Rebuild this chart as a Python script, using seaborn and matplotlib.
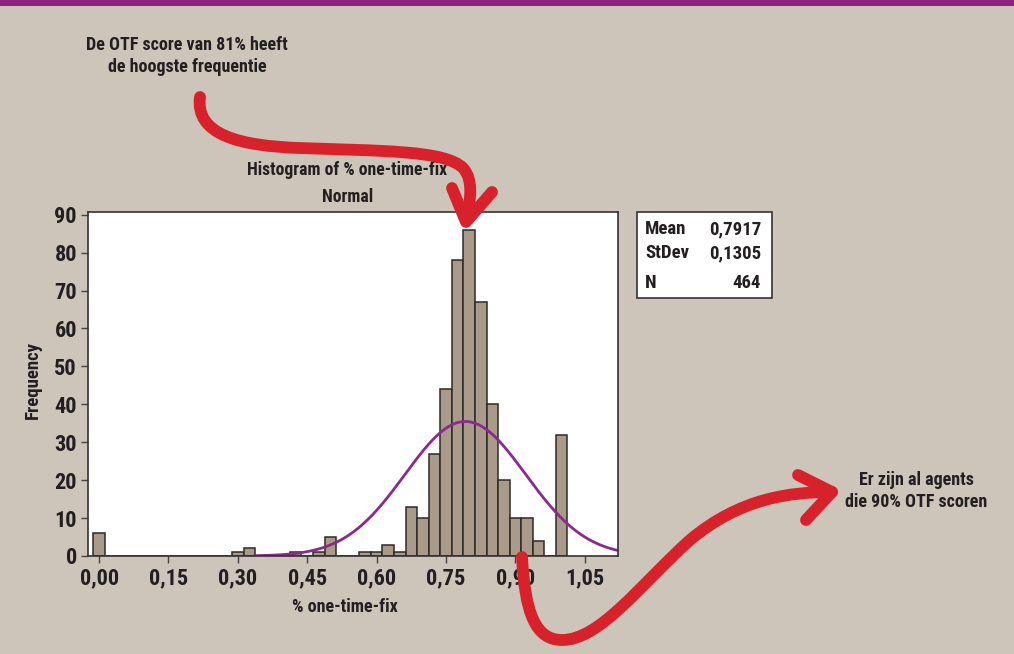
import numpy as np
import pandas as pd
import matplotlib
matplotlib.use("Agg")
import matplotlib.pyplot as plt
from matplotlib import font_manager
from matplotlib.path import Path
from matplotlib.patches import PathPatch, Rectangle
import seaborn as sns

# ---------------- data ----------------
bin_centers = [0.000, 0.300, 0.325, 0.425, 0.475, 0.500, 0.575, 0.600, 0.625, 0.650,
               0.675, 0.700, 0.725, 0.750, 0.775, 0.800, 0.825, 0.850, 0.875,
               0.900, 0.925, 0.950, 1.000]
counts = [6, 1, 2, 1, 1, 5, 1, 1, 3, 1,
          13, 10, 27, 44, 78, 86, 67, 40, 20,
          10, 10, 4, 32]
fit_mean = 0.7917
fit_sd = 0.1305
n_obs = 464
bin_width = 0.025
x_ticks = [0.00, 0.15, 0.30, 0.45, 0.60, 0.75, 0.90, 1.05]
x_tick_labels = ["0,00", "0,15", "0,30", "0,45", "0,60", "0,75", "0,90", "1,05"]
y_ticks = [0, 10, 20, 30, 40, 50, 60, 70, 80, 90]
stats_labels = ["Mean", "StDev", "N"]
stats_values = ["0,7917", "0,1305", "464"]

# ---------------- style ----------------
W, H = 1014, 654
BG = "#CEC5BA"
PURPLE_BAR = "#8B2381"
BAR_FILL = "#A99A89"
BAR_EDGE = "#2E2A27"
CURVE = "#8A2A8E"
RED = "#D8222B"
TEXT = "#231F20"

sns.set_theme(style="white")
available = {f.name for f in font_manager.fontManager.ttflist}
family = None
for cand in ["Roboto Condensed", "Liberation Sans Narrow", "DejaVu Sans Condensed", "Open Sans Condensed"]:
    if cand in available:
        family = cand
        break
scale = 1.0
if family is None:
    family = "DejaVu Sans"
    scale = 0.72
plt.rcParams["font.family"] = [family, "DejaVu Sans"]

def fs(v):
    return v * scale

fig = plt.figure(figsize=(W / 100, H / 100), dpi=100, facecolor=BG)

def fx(x):
    return x / W

def fy(y):
    return 1 - y / H

# axes placement (pixel bounds 88..618, 212..556)
ax = fig.add_axes([fx(88), fy(556), (618 - 88) / W, (556 - 212) / H])
ax.set_facecolor("white")

df = pd.DataFrame({"score": bin_centers, "count": counts})
edges = [round(-0.0125 + i * bin_width, 4) for i in range(42)]
sns.histplot(data=df, x="score", weights="count", bins=edges, ax=ax,
             color=BAR_FILL, edgecolor=BAR_EDGE, linewidth=1.1, alpha=1.0)

# fitted normal curve
xs = np.linspace(0.335, 1.125, 300)
ys = n_obs * bin_width / (fit_sd * np.sqrt(2 * np.pi)) * np.exp(-0.5 * ((xs - fit_mean) / fit_sd) ** 2)
sns.lineplot(x=xs, y=ys, ax=ax, color=CURVE, linewidth=2.0)

ax.set_xlim(-0.024, 1.1217)
ax.set_ylim(0, 90.7)
ax.set_xticks(x_ticks)
ax.set_xticklabels(x_tick_labels)
ax.set_yticks(y_ticks)
ax.tick_params(axis="both", direction="out", length=5, width=1, color="#444444",
               labelsize=fs(16), labelcolor=TEXT, pad=3)
ax.tick_params(axis="x", bottom=True)
ax.tick_params(axis="y", left=True)
for lab in ax.get_xticklabels() + ax.get_yticklabels():
    lab.set_fontweight("bold")
for sp in ax.spines.values():
    sp.set_visible(True)
    sp.set_color("#333333")
    sp.set_linewidth(1.2)
ax.set_xlabel("% one-time-fix", fontsize=fs(13), fontweight="bold", color=TEXT)
ax.xaxis.set_label_coords((345 - 88) / 530, (556 - 598) / 344)
ax.set_ylabel("Frequency", fontsize=fs(13.5), fontweight="bold", color=TEXT)
ax.yaxis.set_label_coords((33 - 88) / 530, (556 - 380) / 344)
ax.yaxis.label.set_verticalalignment("center")

# title
fig.text(fx(347.5), fy(170), "Histogram of % one-time-fix", ha="center", va="center",
         fontsize=fs(12.7), fontweight="bold", color=TEXT)
fig.text(fx(347.5), fy(197), "Normal", ha="center", va="center",
         fontsize=fs(12.7), fontweight="bold", color=TEXT)

# stats box
fig.patches.append(Rectangle((fx(637), fy(298)), (772 - 637) / W, (298 - 212) / H,
                             transform=fig.transFigure, facecolor="white",
                             edgecolor="#333333", linewidth=1.2, zorder=1))
for i, (lab, val) in enumerate(zip(stats_labels, stats_values)):
    yy = [229, 253, 283][i]
    fig.text(fx(645), fy(yy), lab, ha="left", va="center", fontsize=fs(13.5),
             fontweight="bold", color=TEXT, zorder=2)
    fig.text(fx(761), fy(yy), val, ha="right", va="center", fontsize=fs(13.5),
             fontweight="bold", color=TEXT, zorder=2)

# annotations
fig.text(fx(187), fy(56), "De OTF score van 81% heeft\nde hoogste frequentie",
         ha="center", va="center", fontsize=fs(13), fontweight="bold", color=TEXT,
         linespacing=1.3)
fig.text(fx(916), fy(491), "Er zijn al agents\ndie 90% OTF scoren",
         ha="center", va="center", fontsize=fs(13), fontweight="bold", color=TEXT,
         linespacing=1.3)

# top purple band
fig.patches.append(Rectangle((0, fy(6)), 1, 6 / H, transform=fig.transFigure,
                             facecolor=PURPLE_BAR, edgecolor="none", zorder=5))

# red arrows (decorative, figure pixel coordinates)
def curve_patch(pts, codes):
    verts = [(fx(x), fy(y)) for x, y in pts]
    return PathPatch(Path(verts, codes), transform=fig.transFigure, facecolor="none",
                     edgecolor=RED, linewidth=8.5, capstyle="round", joinstyle="round",
                     zorder=20)

C4 = Path.CURVE4
arrow1 = [(200, 97), (195, 135), (240, 146), (300, 148),
          (380, 151), (445, 150), (463, 168),
          (474, 180), (470, 200), (467, 219)]
fig.patches.append(curve_patch(arrow1, [Path.MOVETO] + [C4] * 9))
fig.patches.append(curve_patch([(452, 188), (466, 222), (492, 192)],
                               [Path.MOVETO, Path.LINETO, Path.LINETO]))

arrow2 = [(522, 557), (525, 612), (535, 640), (562, 640),
          (600, 640), (640, 585), (690, 540),
          (740, 498), (790, 492), (832, 492)]
fig.patches.append(curve_patch(arrow2, [Path.MOVETO] + [C4] * 9))
fig.patches.append(curve_patch([(798, 475), (832, 492), (806, 520)],
                               [Path.MOVETO, Path.LINETO, Path.LINETO]))

fig.savefig("out.png", dpi=100, facecolor=BG)
